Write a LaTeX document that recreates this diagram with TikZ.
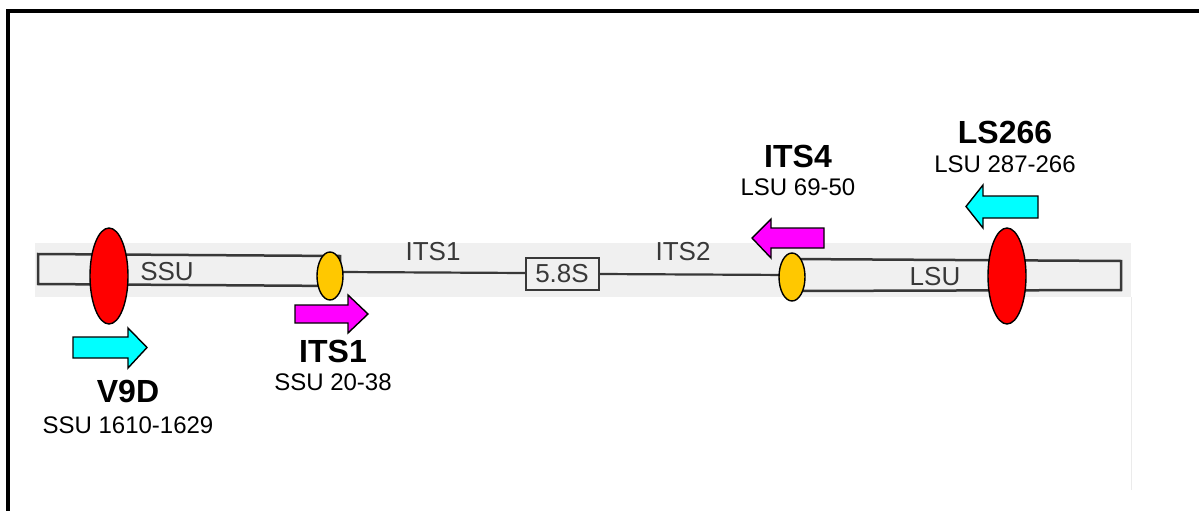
\documentclass[tikz,border=0pt]{standalone}
\usepackage{fontspec}
\setmainfont{Liberation Sans}
\definecolor{band}{HTML}{F0F0F0}
\definecolor{scan}{HTML}{383838}
\definecolor{cyanA}{HTML}{00FFFF}
\definecolor{magA}{HTML}{FF00FF}
\definecolor{goldA}{HTML}{FFC800}
\tikzset{
  scanbox/.style={draw=scan, line width=2.5pt, fill=band},
  scanline/.style={draw=scan, line width=2.2pt},
  scantext/.style={text=scan, font=\fontsize{26}{26}\selectfont, inner sep=0pt},
  bigred/.style={draw=black, line width=1.4pt, fill=red},
  smallgold/.style={draw=black, line width=1.4pt, fill=goldA},
  arrowshape/.style={draw=black, line width=1.4pt, line join=miter},
  primer/.style={font=\fontsize{32}{32}\bfseries\selectfont, inner sep=0pt},
  primerpos/.style={font=\fontsize{24}{24}\selectfont, inner sep=0pt}
}
\begin{document}
\begin{tikzpicture}[x=1pt,y=-1pt]
\useasboundingbox (0,0) rectangle (1199,511);
\fill[white] (0,0) rectangle (1199,511);
% frame
\draw[line width=4pt] (8,511) -- (8,11.5) -- (1199,11.5);
% scanned band
\fill[band] (35,243) rectangle (1131,297);
\draw[black!8, line width=0.6pt] (1131,297) -- (1131,490);
% SSU box
\draw[scanbox] (38,254) -- (340,256) -- (340,286) -- (38,284) -- cycle;
% line
\draw[scanline] (340,272) -- (526,273);
\draw[scanbox] (526,258) rectangle (599,290);
\draw[scanline] (599,274) -- (790,275);
% LSU box
\draw[scanbox] (790,259) -- (1121,261) -- (1121,290) -- (790,291) -- cycle;
% scanned labels
\node[scantext] (ssu) at (167,272) {SSU};
\node[scantext] (its1l) at (433,252) {ITS1};
\node[scantext] (its2l) at (683,252) {ITS2};
\node[scantext] (s58) at (562,274) {5.8S};
\node[scantext] (lsu) at (935,277) {LSU};
% ellipses
\draw[bigred] (109,276) ellipse (19 and 48);
\draw[bigred] (1007,276) ellipse (19 and 48);
\draw[smallgold] (330,276) ellipse (13 and 24);
\draw[smallgold] (792,277) ellipse (13 and 24);
% arrows
\draw[arrowshape, fill=cyanA] (73,337) -- (128,337) -- (128,328) -- (147,347.5) -- (128,368) -- (128,358) -- (73,358) -- cycle;
\draw[arrowshape, fill=magA] (295,305) -- (348,305) -- (348,295) -- (368,314) -- (348,333) -- (348,323) -- (295,323) -- cycle;
\draw[arrowshape, fill=magA] (824,228) -- (771,228) -- (771,219) -- (752,238) -- (771,258) -- (771,248) -- (824,248) -- cycle;
\draw[arrowshape, fill=cyanA] (1038,196) -- (983,196) -- (983,185) -- (966,206.5) -- (983,228) -- (983,218) -- (1038,218) -- cycle;
% primer labels
\node[primer] (v9d) at (128,391) {V9D};
\node[primerpos] (v9dp) at (128,425) {SSU 1610-1629};
\node[primer] (its1) at (333,351) {ITS1};
\node[primerpos] (its1p) at (333,382) {SSU 20-38};
\node[primer] (its4) at (798,156) {ITS4};
\node[primerpos] (its4p) at (798,187) {LSU 69-50};
\node[primer] (ls266) at (1005,132) {LS266};
\node[primerpos] (ls266p) at (1005,164) {LSU 287-266};
\end{tikzpicture}
\end{document}
